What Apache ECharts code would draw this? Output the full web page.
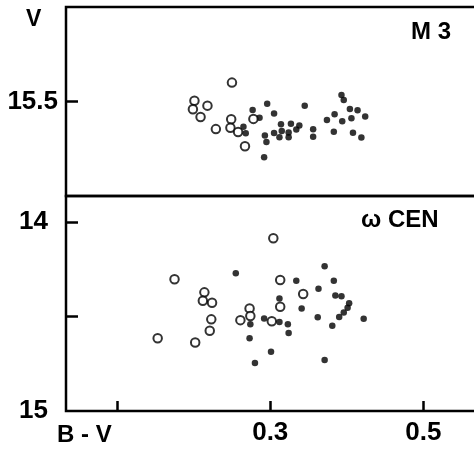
<!DOCTYPE html>
<html>
<head>
<meta charset="utf-8">
<script src="https://cdn.jsdelivr.net/npm/echarts@6/dist/echarts.min.js"></script>
<style>
html,body{margin:0;padding:0;background:#fff;}
#chart{width:474px;height:452px;}
</style>
</head>
<body>
<div id="chart"></div>
<script>
// ---- Data (B-V colour, V magnitude) ----
const m3OpenBV  = [0.250,0.201,0.199,0.218,0.209,0.229,0.249,0.248,0.258,0.267,0.278];
const m3OpenV   = [15.40,15.496,15.541,15.522,15.582,15.646,15.594,15.639,15.662,15.737,15.592];
const m3FilledBV = [0.265,0.268,0.277,0.286,0.296,0.305,0.293,0.295,0.292,0.305,0.314,0.315,0.312,0.324,0.324,0.327,0.334,0.338,0.345,0.356,0.356,0.374,0.384,0.383,0.393,0.396,0.394,0.404,0.406,0.414,0.408,0.424,0.419];
const m3FilledV  = [15.633,15.668,15.545,15.586,15.512,15.563,15.680,15.714,15.795,15.667,15.620,15.656,15.689,15.689,15.664,15.618,15.648,15.627,15.523,15.647,15.687,15.598,15.568,15.660,15.466,15.492,15.604,15.540,15.589,15.546,15.665,15.580,15.690];
const cenOpenBV = [0.304,0.175,0.214,0.212,0.224,0.223,0.221,0.153,0.202,0.313,0.343,0.313,0.273,0.274,0.261,0.302];
const cenOpenV  = [14.086,14.303,14.372,14.416,14.427,14.515,14.575,14.615,14.637,14.307,14.381,14.448,14.457,14.497,14.519,14.525];
const cenFilledBV = [0.255,0.334,0.371,0.383,0.363,0.312,0.341,0.385,0.393,0.403,0.401,0.396,0.390,0.362,0.381,0.422,0.292,0.274,0.312,0.323,0.324,0.273,0.301,0.280,0.371];
const cenFilledV  = [14.271,14.311,14.234,14.311,14.353,14.404,14.457,14.388,14.393,14.430,14.453,14.479,14.503,14.504,14.549,14.512,14.510,14.541,14.529,14.541,14.587,14.615,14.686,14.746,14.730];

// ---- Axes / tick labels ----
const xTicks = [0.1, 0.3, 0.5];
const xTickLabels = [0.3, 0.5];
const m3YTicks = [15.5];
const m3YLabels = [15.5];
const cenYTicks = [14, 14.5];
const cenYLabels = [14, 15];
const panelTitles = ['M 3', 'ω CEN'];
const yAxisTitle = 'V';
const xAxisTitle = 'B - V';

const zip = (a, b) => a.map((v, i) => [v, b[i]]);
const FONT = '"Liberation Sans", Arial, sans-serif';
const lbl = {color:'#000', fontFamily:FONT, fontWeight:'bold', fontSize:26};

const chart = echarts.init(document.getElementById('chart'), null, {renderer:'canvas'});
const gridCommon = {left:66, width:434, outerBoundsMode:'none', containLabel:false, show:true, borderColor:'#000', borderWidth:2.5, backgroundColor:'transparent'};
const xCommon = {type:'value', min:0.0333, max:0.6, splitLine:{show:false}, axisLine:{show:false}};
const openStyle = {color:'#fff', borderColor:'#000', borderWidth:2};
const fillStyle = {color:'#000'};

chart.setOption({
  animation:false,
  backgroundColor:'#fff',
  grid:[
    Object.assign({top:7, height:189}, gridCommon),
    Object.assign({top:196, height:215}, gridCommon)
  ],
  xAxis:[
    Object.assign({gridIndex:0, axisTick:{show:false}, axisLabel:{show:false}}, xCommon),
    Object.assign({gridIndex:1,
      axisTick:{show:true, inside:true, length:10, customValues:xTicks, lineStyle:{color:'#000', width:2.5}},
      axisLabel:Object.assign({show:true, margin:9, customValues:xTickLabels, formatter:v => v.toFixed(1)}, lbl)
    }, xCommon)
  ],
  yAxis:[
    {gridIndex:0, type:'value', inverse:true, min:15, max:16, splitLine:{show:false}, axisLine:{show:false},
      axisTick:{show:true, inside:true, length:12, customValues:m3YTicks, lineStyle:{color:'#000', width:2.5}},
      axisLabel:Object.assign({show:true, margin:8, customValues:m3YLabels, formatter:v => v.toFixed(1)}, lbl)},
    {gridIndex:1, type:'value', inverse:true, min:13.862, max:15, splitLine:{show:false}, axisLine:{show:false},
      axisTick:{show:true, inside:true, length:12, customValues:cenYTicks, lineStyle:{color:'#000', width:2.5}},
      axisLabel:Object.assign({show:true, margin:18, customValues:cenYLabels, formatter:v => String(v)}, lbl)}
  ],
  series:[
    {type:'scatter', xAxisIndex:0, yAxisIndex:0, data:zip(m3FilledBV, m3FilledV), symbol:'circle', symbolSize:6.5, itemStyle:fillStyle},
    {type:'scatter', xAxisIndex:0, yAxisIndex:0, data:zip(m3OpenBV, m3OpenV), symbol:'circle', symbolSize:8.5, itemStyle:openStyle},
    {type:'scatter', xAxisIndex:1, yAxisIndex:1, data:zip(cenFilledBV, cenFilledV), symbol:'circle', symbolSize:6.5, itemStyle:fillStyle},
    {type:'scatter', xAxisIndex:1, yAxisIndex:1, data:zip(cenOpenBV, cenOpenV), symbol:'circle', symbolSize:8.5, itemStyle:openStyle}
  ],
  graphic:[
    {type:'text', left:26, top:8, style:{text:yAxisTitle, fill:'#000', font:'bold 23px ' + FONT}},
    {type:'text', left:57, top:423, style:{text:xAxisTitle, fill:'#000', font:'bold 24px ' + FONT}},
    {type:'text', left:411, top:20, style:{text:panelTitles[0], fill:'#000', font:'bold 24px ' + FONT}},
    {type:'text', left:361, top:208, style:{text:panelTitles[1], fill:'#000', font:'bold 24px ' + FONT}}
  ]
});
</script>
</body>
</html>
